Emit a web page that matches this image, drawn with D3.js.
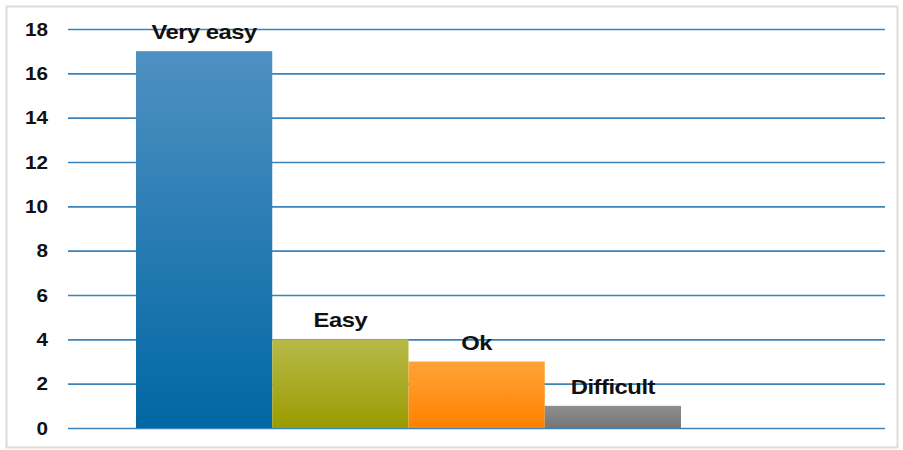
<!DOCTYPE html>
<html><head><meta charset="utf-8">
<script src="https://cdn.jsdelivr.net/npm/d3@7"></script>
<style>body{margin:0;background:#fff;}svg{display:block;}</style>
</head><body>
<svg id="c" width="903" height="450"></svg>
<script>
const categories = ["Very easy", "Easy", "Ok", "Difficult"];
const values = [17, 4, 3, 1];
const yTicks = [0, 2, 4, 6, 8, 10, 12, 14, 16, 18];
const colorsTop = ["#4f90c2", "#b7ba4a", "#ffa338", "#8e8e8e"];
const colorsBottom = ["#0067a3", "#9b9b00", "#ff8100", "#767676"];

const svg = d3.select("#c");
svg.append("rect").attr("x", 6.5).attr("y", 6.5).attr("width", 891).attr("height", 441)
  .attr("fill", "#fff").attr("stroke", "#dcdcdc").attr("stroke-width", 2);

const y = d3.scaleLinear().domain([0, 18]).range([428, 29]);
const x = d3.scaleBand().domain(categories).range([136, 681]).padding(0);

const defs = svg.append("defs");
categories.forEach((c, i) => {
  const g = defs.append("linearGradient").attr("id", "g" + i)
    .attr("x1", 0).attr("y1", 0).attr("x2", 0).attr("y2", 1);
  g.append("stop").attr("offset", "0%").attr("stop-color", colorsTop[i]);
  g.append("stop").attr("offset", "100%").attr("stop-color", colorsBottom[i]);
});

// gridlines
const yAxis = d3.axisLeft(y).tickValues(yTicks).tickSize(-(885 - 68)).tickPadding(20);
const ga = svg.append("g").attr("transform", "translate(68,0)").call(yAxis);
ga.select(".domain").remove();
ga.selectAll(".tick line").attr("stroke", "#3a84bb").attr("stroke-width", 1.6);
ga.selectAll(".tick text").attr("fill", "#111").attr("font-family", "Liberation Sans, Arial, sans-serif")
  .attr("font-weight", "bold").attr("font-size", 18)
  .attr("x", 0).attr("dy", "0.34em")
  .attr("transform", "translate(-20,0) scale(1.15,1)");

// bars
svg.selectAll("rect.bar").data(categories).enter().append("rect").attr("class", "bar")
  .attr("x", d => x(d)).attr("width", x.bandwidth())
  .attr("y", (d, i) => y(values[i])).attr("height", (d, i) => y(0) - y(values[i]))
  .attr("fill", (d, i) => `url(#g${i})`);

// labels
svg.selectAll("text.lbl").data(categories).enter().append("text").attr("class", "lbl")
  .attr("transform", (d, i) => `translate(${x(d) + x.bandwidth() / 2},${y(values[i]) - 12}) scale(1.22,1)`)
  .attr("text-anchor", "middle")
  .attr("font-family", "Liberation Sans, Arial, sans-serif").attr("font-weight", "bold")
  .attr("font-size", 19.5).attr("letter-spacing", -0.4).attr("fill", "#111")
  .text(d => d);
</script>
</body></html>
